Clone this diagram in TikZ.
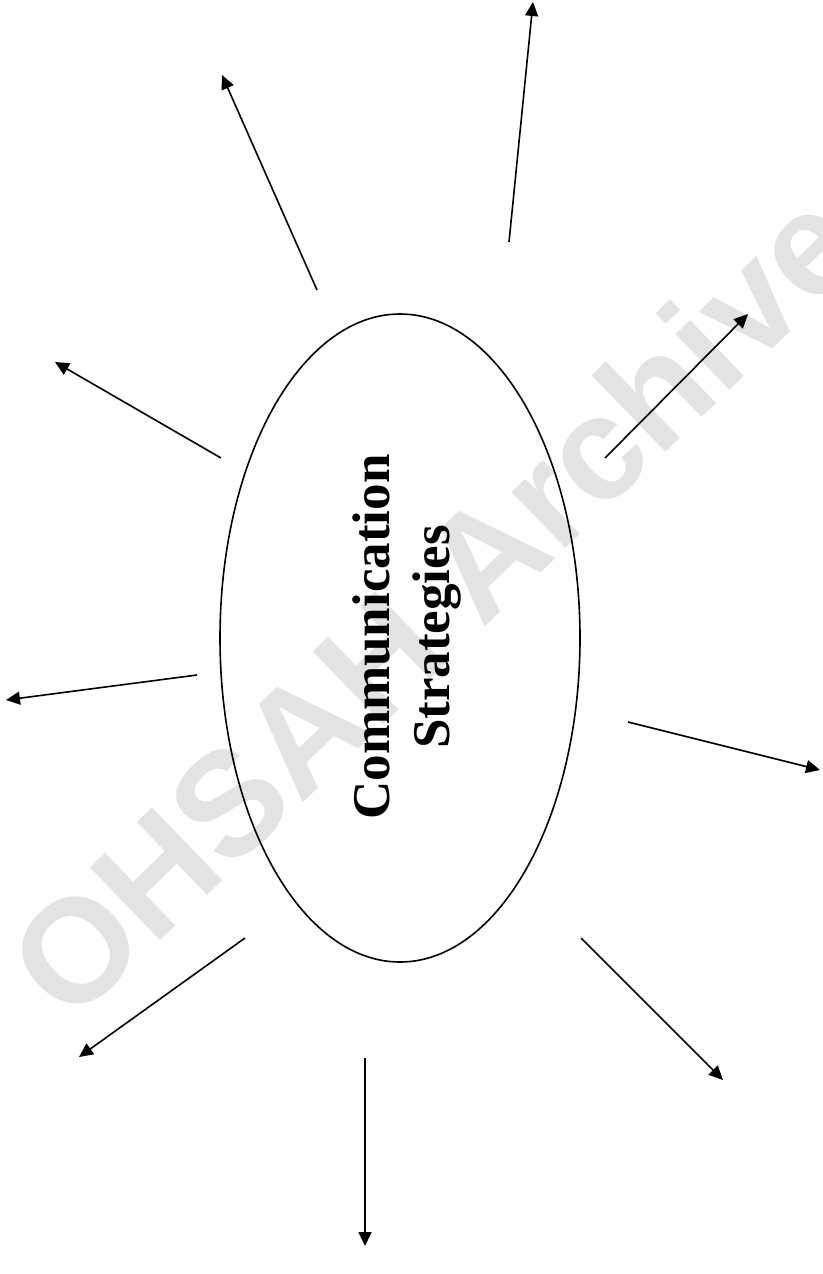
\documentclass[tikz,border=0pt]{standalone}
\usepackage{fontspec}
\setmainfont{Liberation Serif}
\newfontfamily\wmfont{Liberation Sans}
\usetikzlibrary{arrows.meta,shapes.geometric}
\begin{document}
\begin{tikzpicture}[x=1pt,y=-1pt,
  ray/.style={line width=1.6pt,-{Triangle[length=14pt,width=13pt]}},
  hub/.style={draw,line width=1.6pt,ellipse,minimum width=360pt,minimum height=648pt,inner sep=0pt},
  title/.style={rotate=90,align=center,inner sep=0pt,font=\bfseries\fontsize{53}{60}\selectfont},
  watermark/.style={rotate=44,text=black!11,inner sep=0pt,font=\wmfont\bfseries\fontsize{147}{150}\selectfont}]
\useasboundingbox (0,0) rectangle (822,1274);
\clip (0,0) rectangle (822,1274);
\node[watermark] (wm) at (434,603) {OHSAH Archive};
\node[hub] (c) at (400,638) {};
\node[title] (t) at (407,637) {Communication\\Strategies};
% ray coordinates
\coordinate (s1) at (509,242); \coordinate (e1) at (533,2);
\coordinate (s2) at (317,290); \coordinate (e2) at (222,75);
\coordinate (s3) at (221,458); \coordinate (e3) at (55,362);
\coordinate (s4) at (197,675); \coordinate (e4) at (6,700);
\coordinate (s5) at (605,458); \coordinate (e5) at (748,314);
\coordinate (s6) at (628,722); \coordinate (e6) at (820,770);
\coordinate (s7) at (581,938); \coordinate (e7) at (723,1080);
\coordinate (s8) at (365,1058); \coordinate (e8) at (365,1246);
\coordinate (s9) at (245,938); \coordinate (e9) at (79,1057);
\foreach \i in {1,...,9} {\draw[ray] (s\i) -- (e\i);}
\end{tikzpicture}
\end{document}
